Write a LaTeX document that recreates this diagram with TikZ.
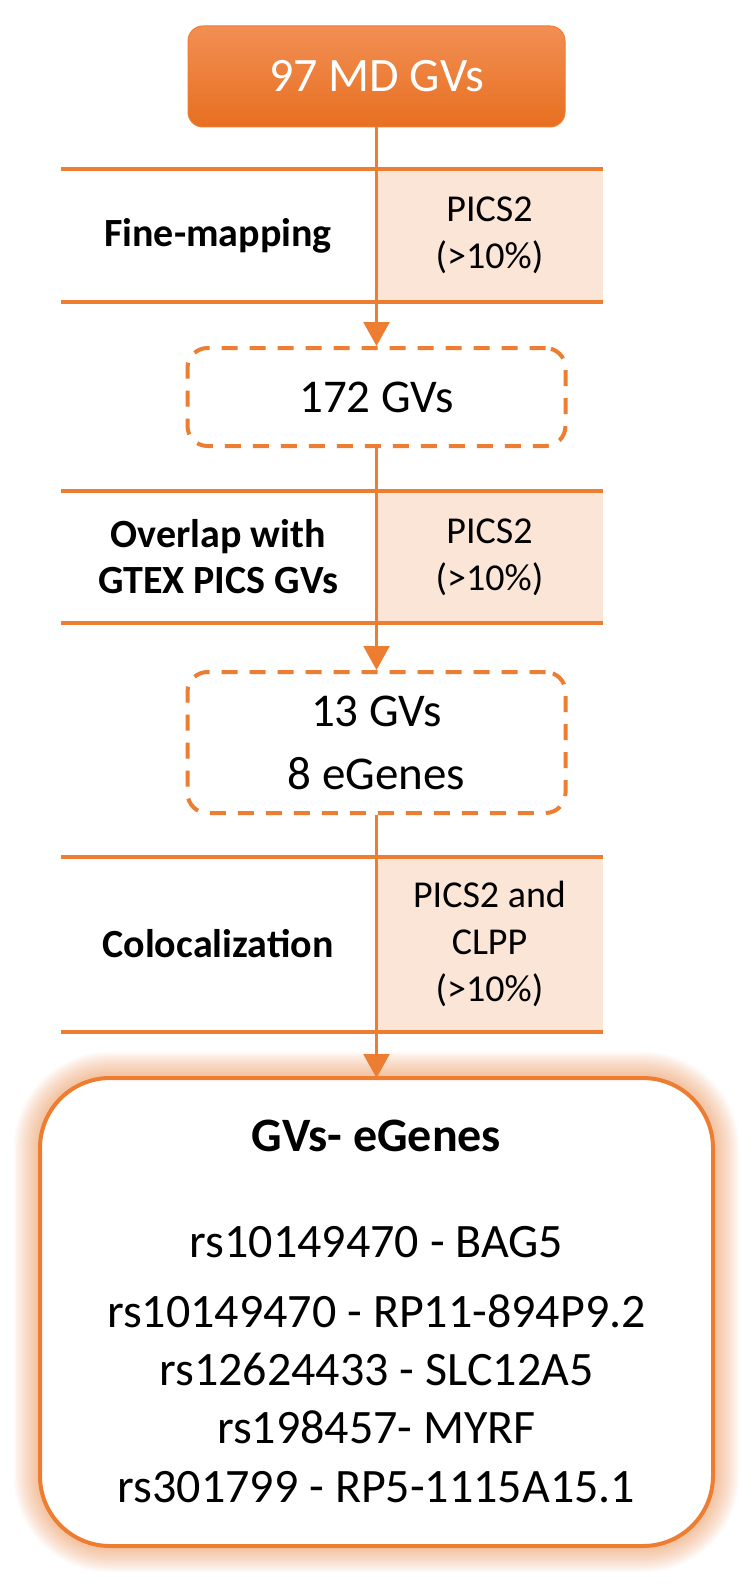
\documentclass[tikz,border=0pt]{standalone}
\usepackage{fontspec}
\setmainfont{Carlito}
\usepackage{tikz}
\usetikzlibrary{arrows.meta,positioning,calc,backgrounds}

\definecolor{mdorange}{RGB}{237,125,49}
\definecolor{mdpink}{RGB}{251,229,214}
\definecolor{mdtop}{RGB}{242,143,84}
\definecolor{mdbot}{RGB}{231,111,32}

\begin{document}
\begin{tikzpicture}[x=1pt, y=-1pt,
            start/.style={rectangle, rounded corners=15pt, top color=mdtop, bottom color=mdbot,
                draw=mdorange, line width=1pt, text=white, font=\fontsize{48}{58}\selectfont},
            result/.style={rectangle, rounded corners=20pt, draw=mdorange, line width=4pt,
                dash pattern=on 16pt off 12pt, minimum width=378pt, align=center,
                font=\fontsize{47}{63}\selectfont},
            final/.style={rectangle, rounded corners=70pt, draw=mdorange, line width=4pt, fill=white,
                outer sep=0pt, minimum width=673pt, minimum height=468pt},
            stagename/.style={align=center, font=\bfseries\fontsize{40}{46}\selectfont},
            method/.style={align=center, font=\fontsize{38}{47}\selectfont},
            pairtext/.style={anchor=base, font=\fontsize{48}{58}\selectfont},
            band/.style={draw=mdorange, line width=4pt},
            flow/.style={draw=mdorange, line width=2.5pt, -{Triangle[width=26pt,length=24pt]}}]

        \useasboundingbox (0,0) rectangle (753,1584);

        % bands with the methods
        \fill[mdpink] (376.5,169) rectangle (603,302);
        \fill[mdpink] (376.5,491) rectangle (603,623);
        \fill[mdpink] (376.5,857) rectangle (603,1032);
        \foreach \yy in {169,302,491,623,857,1032}
            \draw[band] (61,\yy) -- (603,\yy);

        \node[stagename] (fine) at (218,235.5) {Fine-mapping};
        \node[method] (pics1) at (489.5,235.5) {PICS2\\(>10\%)};
        \node[stagename] (overlap) at (218,557) {Overlap with\\GTEX PICS GVs};
        \node[method] (pics2) at (489.5,557) {PICS2\\(>10\%)};
        \node[stagename] (coloc) at (218,944) {Colocalization};
        \node[method] (clpp) at (489.5,944) {PICS2 and\\CLPP\\(>10\%)};

        % boxes
        \node[start, minimum width=377pt, minimum height=101pt] (md) at (376.5,76.5) {97 MD GVs};
        \node[result, minimum height=98pt] (gv172) at (376.5,397) {172 GVs};
        \node[result, minimum height=141pt] (gv13) at (376.5,742.5) {13 GVs\\8 eGenes};
        \node[final] (pairs) at (376.5,1312) {};

        \node[pairtext, font=\bfseries\fontsize{48}{58}\selectfont] (title) at (376.5,1151) {GVs- eGenes};
        \foreach \yy/\pair in {1257/rs10149470 - BAG5, 1327/rs10149470 - RP11-894P9.2,
                1385/rs12624433 - SLC12A5, 1443/rs198457- MYRF, 1502/rs301799 - RP5-1115A15.1}
            \node[pairtext] (pair\yy) at (376.5,\yy) {\pair};

        \draw[flow] (md) -- (gv172);
        \draw[flow] (gv172) -- (gv13);
        \draw[flow] (gv13) -- (pairs);

        % glow round the last box
        \begin{scope}[on background layer]
            \fill[white] (0,0) rectangle (753,1584);
            \foreach \w in {52,48,...,8}
                \draw[mdorange, line width=\w pt, opacity=0.045, rounded corners=70pt]
                    (pairs.north west) rectangle (pairs.south east);
        \end{scope}
\end{tikzpicture}
\end{document}
